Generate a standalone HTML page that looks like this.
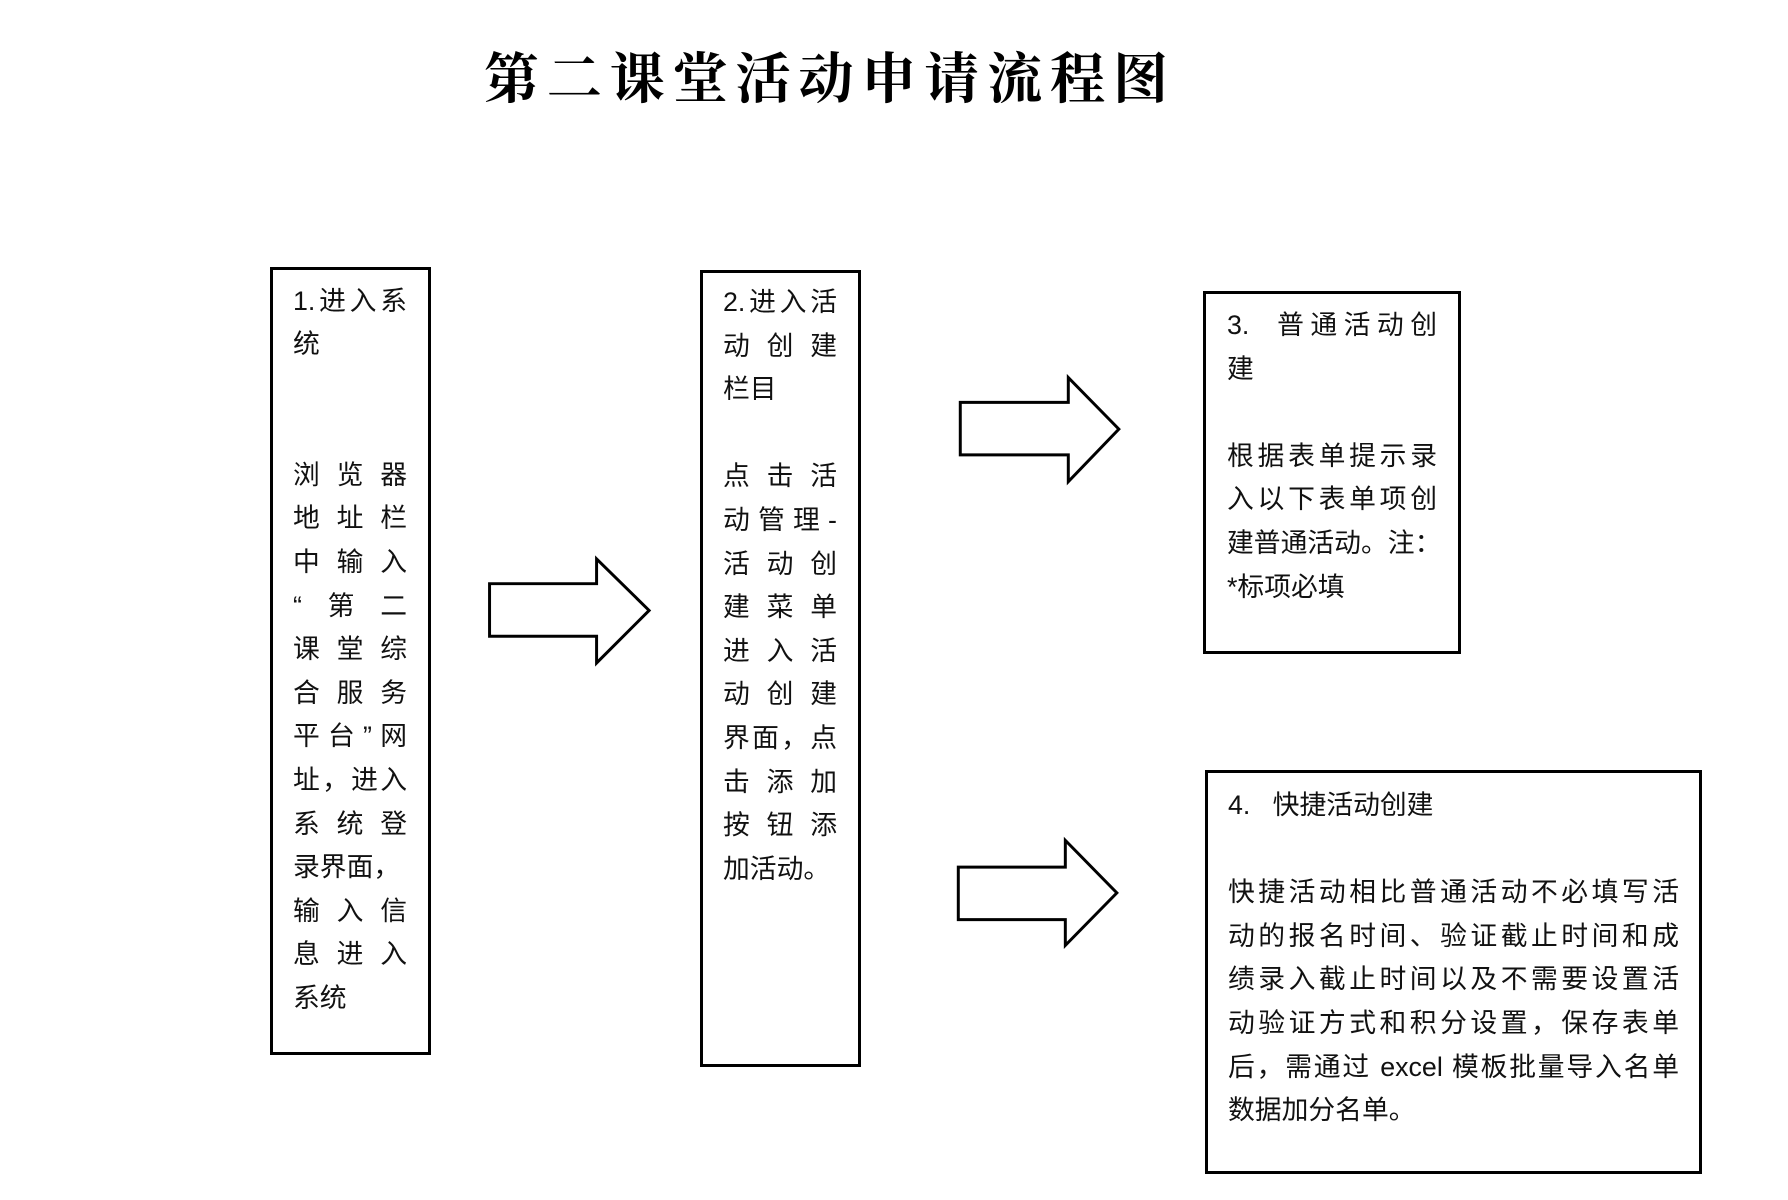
<!DOCTYPE html>
<html><head><meta charset="utf-8">
<style>
html,body{margin:0;padding:0;background:#fff;}
body{width:1788px;height:1200px;position:relative;overflow:hidden;}
.t{position:absolute;left:484px;top:40px;width:684px;text-align:justify;text-align-last:justify;font-family:"Liberation Serif","Noto Serif CJK SC",serif;font-weight:bold;font-size:55px;line-height:80px;color:#000;white-space:nowrap;}
.box{position:absolute;border:3px solid #000;box-sizing:border-box;}
.tx{position:absolute;font-family:"Liberation Sans","Noto Sans CJK SC",sans-serif;font-size:26.8px;color:#111;}
.tx div{height:43.6px;line-height:43.6px;white-space:nowrap;}
.tx div.j{text-align:justify;text-align-last:justify;}
svg{position:absolute;left:0;top:0;}
</style></head><body>
<div class="t">第二课堂活动申请流程图</div>

<div class="box" style="left:269.5px;top:266.5px;width:161.5px;height:788px;"></div>
<div class="box" style="left:699.5px;top:269.5px;width:161.5px;height:797px;"></div>
<div class="box" style="left:1203px;top:291px;width:257.5px;height:362.5px;"></div>
<div class="box" style="left:1205px;top:770px;width:497px;height:404px;"></div>

<div class="tx" style="left:293px;top:279.5px;width:114px;">
<div class="j">1.进入系</div><div>统</div><div></div><div></div>
<div class="j">浏览器</div><div class="j">地址栏</div><div class="j">中输入</div><div class="j">“第二</div><div class="j">课堂综</div><div class="j">合服务</div><div class="j">平台”网</div><div class="j">址，进入</div><div class="j">系统登</div><div>录界面，</div><div class="j">输入信</div><div class="j">息进入</div><div>系统</div>
</div>

<div class="tx" style="left:723px;top:281px;width:114px;">
<div class="j">2.进入活</div><div class="j">动创建</div><div>栏目</div><div></div>
<div class="j">点击活</div><div class="j">动管理-</div><div class="j">活动创</div><div class="j">建菜单</div><div class="j">进入活</div><div class="j">动创建</div><div class="j">界面，点</div><div class="j">击添加</div><div class="j">按钮添</div><div>加活动。</div>
</div>

<div class="tx" style="left:1227px;top:304px;width:210px;">
<div class="j">3.&nbsp;&nbsp;普通活动创</div><div>建</div><div></div>
<div class="j">根据表单提示录</div><div class="j">入以下表单项创</div><div class="j">建普通活动。注：</div><div>*标项必填</div>
</div>

<div class="tx" style="left:1228px;top:784px;width:451px;">
<div>4.&nbsp;&nbsp;&nbsp;快捷活动创建</div><div></div>
<div class="j">快捷活动相比普通活动不必填写活</div><div class="j">动的报名时间、验证截止时间和成</div><div class="j">绩录入截止时间以及不需要设置活</div><div class="j">动验证方式和积分设置，保存表单</div><div class="j">后，需通过 excel 模板批量导入名单</div><div>数据加分名单。</div>
</div>

<svg width="1788" height="1200" viewBox="0 0 1788 1200">
<g transform="scale(0.991)" fill="#fff" stroke="#000" stroke-width="3" stroke-linejoin="miter">
<polygon points="494,589 602,589 602,564 655,616 602,669 602,642 494,642"/>
<polygon points="969,406 1078,406 1078,381 1129,433 1078,486 1078,459 969,459"/>
<polygon points="967,875 1075,875 1075,848 1127,901 1075,954 1075,928 967,928"/>
</g>
</svg>
</body></html>
